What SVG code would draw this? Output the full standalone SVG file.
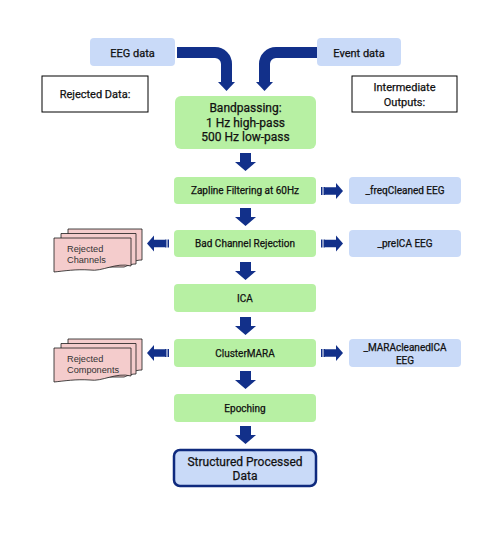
<svg xmlns="http://www.w3.org/2000/svg" width="504" height="550" viewBox="0 0 504 550">
<defs>
<style>
.t{font-family:Roboto,"Liberation Sans",sans-serif;font-weight:400;fill:#111;text-anchor:middle;stroke:#111;stroke-width:0.25}
.s10{font-size:10px}
.s11{font-size:11px}
.s12{font-size:12px}
.green{fill:#b7f0a3}
.blue{fill:#c9daf8}
.arr{fill:#12308a}
.page{fill:#f4cccc;stroke:#1a1a1a;stroke-width:0.8}
.rt{font-family:"Liberation Sans",Arial,sans-serif;font-size:9.2px;fill:#333}
</style>
<g id="dn"><path d="M-5.5 0 H5.5 V9 H10.5 L0 18 L-10.5 9 H-5.5 Z"/></g>
<g id="rt"><rect x="0" y="-4" width="1.5" height="8"/><rect x="2.5" y="-4" width="1.5" height="8"/><path d="M4 -3.7 H15 V-8 L22 0 L15 8 V3.7 H4 Z"/></g>
<g id="lf"><rect x="-1.5" y="-4" width="1.5" height="8"/><rect x="-4" y="-4" width="1.5" height="8"/><path d="M-4 -3.7 H-15 V-8 L-22 0 L-15 8 V3.7 H-4 Z"/></g>
<g id="doc">
<path class="page" d="M14 -9 H88 V22 C82 22 79 24 76 25 H14 Z"/>
<path class="page" d="M7 -4.5 H82 V26 C76 26 73 28 70 29 H7 Z"/>
<path class="page" d="M0 0 H77 V28 C62 24 48 34 36 32 C22 31 10 33 0 34 Z"/>
</g>
</defs>

<g id="connectors" class="arr">
<path d="M177 52.5 H215 A11.5 11.5 0 0 1 226.5 64 V82" fill="none" stroke="#12308a" stroke-width="11"/>
<path d="M218 82 H235 L226.5 91 Z"/>
<path d="M317 52.5 H276 A11.5 11.5 0 0 0 264.5 64 V82" fill="none" stroke="#12308a" stroke-width="11"/>
<path d="M256 82 H273 L264.5 91 Z"/>
<use href="#dn" x="245.5" y="153"/>
<use href="#dn" x="245.5" y="208"/>
<use href="#dn" x="245.5" y="262"/>
<use href="#dn" x="245.5" y="317"/>
<use href="#dn" x="245.5" y="371"/>
<use href="#dn" x="245.5" y="426"/>
<use href="#rt" x="321" y="191"/>
<use href="#rt" x="321" y="243.5"/>
<use href="#rt" x="321" y="353"/>
<use href="#lf" x="169" y="243.5"/>
<use href="#lf" x="169" y="353"/>
</g>

<g id="eeg-data"><rect class="blue" x="90" y="38" width="85" height="28" rx="4"/><text class="t s11" x="132.5" y="57">EEG data</text></g>
<g id="event-data"><rect class="blue" x="317" y="38" width="84" height="28" rx="4"/><text class="t s11" x="359" y="57">Event data</text></g>
<g id="rejected-data"><rect x="42" y="76" width="106" height="36" fill="#fff" stroke="#000" stroke-width="1"/><text class="t s11" x="95" y="98">Rejected Data:</text></g>
<g id="intermediate-outputs"><rect x="352" y="76" width="105" height="36" fill="#fff" stroke="#000" stroke-width="1"/><text class="t s11" x="404.5" y="91">Intermediate</text><text class="t s11" x="404.5" y="106">Outputs:</text></g>

<g id="bandpassing"><rect class="green" x="175" y="96" width="141" height="53" rx="6"/>
<text class="t s12" x="245.5" y="112">Bandpassing:</text><text class="t s12" x="245.5" y="126.5">1 Hz high-pass</text><text class="t s12" x="245.5" y="141">500 Hz low-pass</text></g>
<g id="zapline"><rect class="green" x="174" y="177" width="142" height="27" rx="4"/><text class="t s10" x="245" y="194">Zapline Filtering at 60Hz</text></g>
<g id="freqcleaned"><rect class="blue" x="349" y="177" width="112" height="27" rx="4"/><text class="t s10" x="405" y="194">_freqCleaned EEG</text></g>
<g id="bad-channel"><rect class="green" x="174" y="230" width="142" height="27" rx="4"/><text class="t s10" x="245" y="247">Bad Channel Rejection</text></g>
<g id="preica"><rect class="blue" x="349" y="230" width="112" height="27" rx="4"/><text class="t s10" x="405" y="247">_preICA EEG</text></g>
<g id="rejected-channels"><use href="#doc" x="54" y="238"/><text class="rt" x="67" y="252">Rejected</text><text class="rt" x="67" y="263">Channels</text></g>
<g id="ica"><rect class="green" x="174" y="284" width="142" height="28" rx="4"/><text class="t s10" x="245" y="301.5">ICA</text></g>
<g id="clustermara"><rect class="green" x="174" y="339" width="142" height="28" rx="4"/><text class="t s10" x="245" y="356.5">ClusterMARA</text></g>
<g id="maracleaned"><rect class="blue" x="349" y="339" width="112" height="28" rx="4"/><text class="t s10" x="405" y="350.5">_MARAcleanedICA</text><text class="t s10" x="405" y="363.5">EEG</text></g>
<g id="rejected-components"><use href="#doc" x="54" y="348"/><text class="rt" x="67" y="362">Rejected</text><text class="rt" x="67" y="373">Components</text></g>
<g id="epoching"><rect class="green" x="174" y="394" width="142" height="28" rx="4"/><text class="t s10" x="245" y="411.5">Epoching</text></g>
<g id="structured"><rect x="174" y="450" width="142" height="36" rx="6" fill="#c9daf8" stroke="#0f2a7e" stroke-width="2.5"/>
<text class="t s12" x="245" y="466">Structured Processed</text><text class="t s12" x="245" y="480">Data</text></g>
</svg>
